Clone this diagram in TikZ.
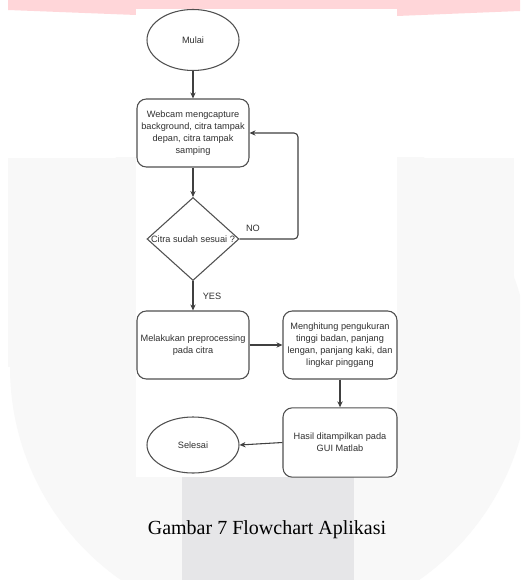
\documentclass[tikz,border=0pt]{standalone}
\usepackage{fontspec}
\setmainfont{Liberation Serif}
\newfontfamily\diagfont{Liberation Sans}
\usetikzlibrary{shapes.geometric,arrows.meta}
\definecolor{bandpink}{HTML}{FFD6D9}
\definecolor{wmgrey}{HTML}{F8F8F8}
\definecolor{bargrey}{HTML}{E6E6E8}
\definecolor{linegrey}{HTML}{404040}
\definecolor{boxgrey}{HTML}{505050}
\definecolor{txtgrey}{HTML}{303030}
\begin{document}
\begin{tikzpicture}[x=0.75pt,y=-0.75pt,
  every node/.style={font=\diagfont\fontsize{6.9}{9}\selectfont, text=txtgrey},
  procbox/.style={draw=boxgrey, line width=0.8pt, rectangle, rounded corners=7pt, fill=white,
    minimum width=84pt, minimum height=51pt, align=center, inner sep=1pt},
  termnode/.style={draw=boxgrey, line width=0.8pt, ellipse, fill=white, minimum width=69pt, inner sep=1pt},
  decnode/.style={draw=boxgrey, line width=0.8pt, diamond, fill=white, minimum width=69pt, minimum height=62.25pt, inner sep=0pt},
  arr/.style={draw=linegrey, line width=0.8pt, -{Stealth[length=4.5pt,width=4pt]}},
  edgelabel/.style={inner sep=0pt}
]
\useasboundingbox (0,0) rectangle (520,580);
% background
\fill[white] (0,0) rectangle (520,580);
\fill[bandpink] (8,0) -- (520,0) -- (520,11) -- (397,16) -- (136,15) -- (8,10) -- cycle;
\begin{scope}
  \clip (0,158) rectangle (520,580);
  \fill[wmgrey] (8,158) rectangle (514,367);
  \fill[wmgrey] (270,367) circle[radius=260*0.75pt];
\end{scope}
\fill[bargrey] (182,477) rectangle (354,580);
\fill[white] (136,9) rectangle (397,477);

% nodes
\node[termnode, minimum height=45.75pt] (mulai) at (193,40) {Mulai};
\node[procbox] (webcam) at (193,133) {Webcam mengcapture\\background, citra tampak\\depan, citra tampak\\samping};
\node[decnode] (cek) at (193,239) {};
\node[inner sep=0pt] (cektext) at (193,239) {Citra sudah sesuai ?};
\node[procbox] (prep) at (193,345) {Melakukan preprocessing\\pada citra};
\node[procbox, minimum width=85.5pt] (hitung) at (340,345) {Menghitung pengukuran\\tinggi badan, panjang\\lengan, panjang kaki, dan\\lingkar pinggang};
\node[procbox, minimum width=85.5pt, minimum height=52pt] (hasil) at (340,442.5) {Hasil ditampilkan pada\\GUI Matlab};
\node[termnode, minimum height=42pt] (selesai) at (193,445) {Selesai};

% connectors
\draw[arr] (mulai.south) -- (webcam.north);
\draw[arr] (webcam.south) -- (cek.north);
\coordinate (loopc) at (298,239);
\draw[arr, rounded corners=3pt] (cek.east) -- (loopc) |- (webcam.east);
\node[edgelabel] (nolabel) at (253,228) {NO};
\draw[arr] (cek.south) -- (prep.north);
\node[edgelabel] (yeslabel) at (212,296) {YES};
\draw[arr] (prep.east) -- (hitung.west);
\draw[arr] (hitung.south) -- (hasil.north);
\draw[arr] (hasil.west) -- (selesai.east);

% caption
\node[font=\fontsize{15}{18}\selectfont, text=black] (caption) at (267,530) {Gambar 7 Flowchart Aplikasi};
\end{tikzpicture}
\end{document}
